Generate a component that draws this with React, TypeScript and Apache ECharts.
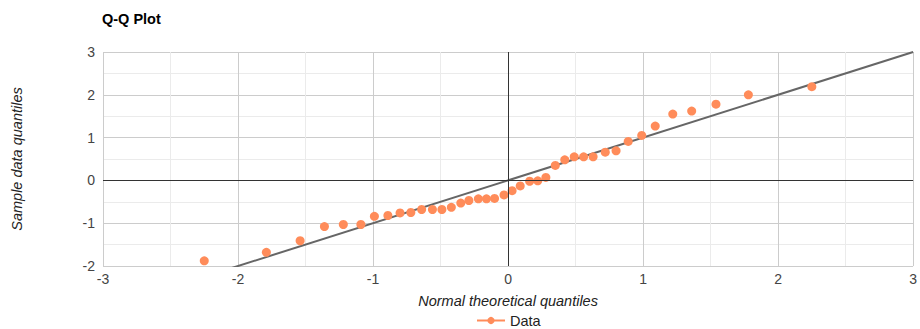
import React, { useEffect, useRef } from "react";
import * as echarts from "echarts";

const theoreticalQuantiles = [
  -2.25, -1.79, -1.54, -1.36, -1.22, -1.09, -0.99, -0.89, -0.8, -0.72,
  -0.64, -0.56, -0.49, -0.42, -0.35, -0.29, -0.22, -0.16, -0.1, -0.03,
  0.03, 0.09, 0.16, 0.22, 0.28, 0.35, 0.42, 0.49, 0.56, 0.63,
  0.72, 0.8, 0.89, 0.99, 1.09, 1.22, 1.36, 1.54, 1.78, 2.25,
];
const sampleQuantiles = [
  -1.88, -1.68, -1.41, -1.08, -1.03, -1.03, -0.84, -0.82, -0.76, -0.75,
  -0.68, -0.68, -0.68, -0.63, -0.53, -0.47, -0.43, -0.43, -0.42, -0.34,
  -0.24, -0.13, -0.02, -0.01, 0.07, 0.35, 0.48, 0.55, 0.55, 0.55,
  0.66, 0.69, 0.91, 1.05, 1.27, 1.55, 1.62, 1.78, 2.0, 2.19,
];
const referenceLineX = [-3, 3];
const referenceLineY = [-3, 3];

const FONT = "Liberation Sans, Arial, sans-serif";
const ORANGE = "#ff8c5a";

export default function App() {
  const ref = useRef<HTMLDivElement>(null);
  useEffect(() => {
    document.body.style.margin = "0";
    document.body.style.overflow = "hidden";
    if (!ref.current) return;
    const chart = echarts.init(ref.current, null, { renderer: "svg" });
    const points = theoreticalQuantiles.map((x, i) => [x, sampleQuantiles[i]]);
    const line = referenceLineX.map((x, i) => [x, referenceLineY[i]]);
    chart.setOption({
      animation: false,
      title: {
        text: "Q-Q Plot",
        left: 97,
        top: 6,
        textStyle: { fontFamily: FONT, fontSize: 14.5, fontWeight: "bold", color: "#000" },
      },
      legend: {
        bottom: -4,
        left: 471,
        data: ["Data"],
        itemWidth: 28,
        itemHeight: 9,
        itemGap: 6,
        textStyle: { fontFamily: FONT, fontSize: 14.5, color: "#222" },
        lineStyle: { width: 2, opacity: 1, color: ORANGE },
      },
      grid: { left: 103, right: 4, top: 52, bottom: 63 },
      xAxis: {
        type: "value",
        min: -3,
        max: 3,
        interval: 1,
        name: "Normal theoretical quantiles",
        nameLocation: "middle",
        nameGap: 27,
        nameTextStyle: { fontFamily: FONT, fontSize: 14.5, fontStyle: "italic", color: "#222" },
        axisLine: { show: false },
        axisTick: { show: false },
        axisLabel: { fontFamily: FONT, fontSize: 14, color: "#444", margin: 6 },
        splitLine: { show: true, lineStyle: { color: "#cccccc", width: 1 } },
        minorTick: { show: false, splitNumber: 2 },
        minorSplitLine: { show: true, lineStyle: { color: "#ebebeb", width: 1 } },
      },
      yAxis: {
        type: "value",
        min: -2,
        max: 3,
        interval: 1,
        name: "Sample data quantiles",
        nameLocation: "middle",
        nameGap: 79,
        nameTextStyle: { fontFamily: FONT, fontSize: 14.5, fontStyle: "italic", color: "#222" },
        axisLine: { show: false },
        axisTick: { show: false },
        axisLabel: { fontFamily: FONT, fontSize: 14, color: "#444", margin: 8 },
        splitLine: { show: true, lineStyle: { color: "#cccccc", width: 1 } },
        minorTick: { show: false, splitNumber: 2 },
        minorSplitLine: { show: true, lineStyle: { color: "#ebebeb", width: 1 } },
      },
      series: [
        {
          name: "Axes",
          type: "scatter",
          data: [],
          silent: true,
          markLine: {
            silent: true,
            symbol: "none",
            label: { show: false },
            lineStyle: { color: "#333", width: 1, type: "solid" },
            data: [{ xAxis: 0 }, { yAxis: 0 }],
          },
        },
        {
          name: "Fit",
          type: "line",
          data: line,
          symbol: "none",
          clip: true,
          lineStyle: { color: "#666", width: 2 },
          z: 3,
        },
        {
          name: "Data",
          type: "line",
          data: points,
          symbol: "circle",
          symbolSize: 9,
          showSymbol: true,
          itemStyle: { color: ORANGE },
          lineStyle: { width: 0, opacity: 0, color: ORANGE },
          z: 4,
        },
      ],
    });
    return () => chart.dispose();
  }, []);
  return <div ref={ref} style={{ width: 920, height: 329 }} />;
}
